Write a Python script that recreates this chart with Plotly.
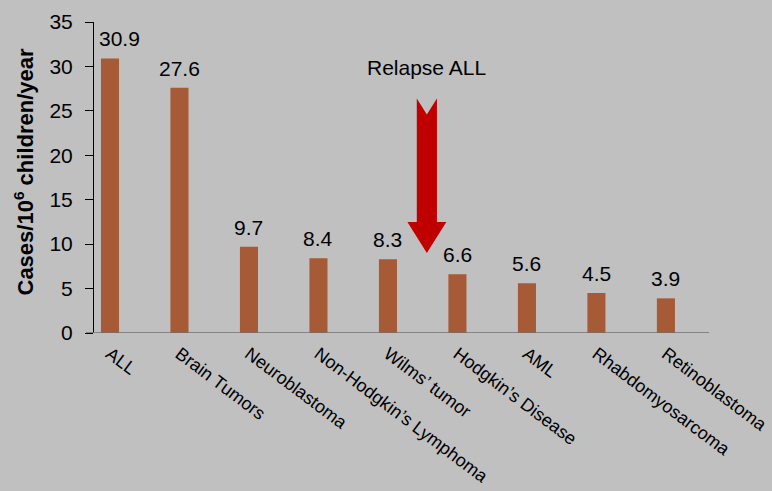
import plotly.graph_objects as go

categories = ["ALL", "Brain Tumors", "Neuroblastoma", "Non-Hodgkin\u2019s Lymphoma",
              "Wilms\u2019 tumor", "Hodgkin\u2019s Disease", "AML", "Rhabdomyosarcoma",
              "Retinoblastoma"]
incidence = [30.9, 27.6, 9.7, 8.4, 8.3, 6.6, 5.6, 4.5, 3.9]
y_ticks = [0, 5, 10, 15, 20, 25, 30, 35]

positions = list(range(len(categories)))
FONT = "Liberation Sans, Arial, sans-serif"
BG = "#c0c0c0"

fig = go.Figure()
fig.add_trace(go.Bar(
    x=positions, y=incidence, width=0.26,
    marker=dict(color="#a65a35", line=dict(width=0)),
    hoverinfo="skip",
))

# value labels above each bar (first one nudged clear of the y axis)
for p, v in zip(positions, incidence):
    fig.add_annotation(x=p, y=v, text=f"{v:.1f}", showarrow=False,
                       yanchor="bottom", yshift=6, xshift=10 if p == 0 else 0,
                       font=dict(family=FONT, size=21, color="black"))

# block arrow marking relapsed ALL
ax = 4.56
sw, hw = 0.145, 0.28
y_top, y_notch, y_head, y_tip = 26.4, 24.6, 12.5, 9.0
path = (f"M {ax - sw} {y_top} L {ax} {y_notch} L {ax + sw} {y_top} "
        f"L {ax + sw} {y_head} L {ax + hw} {y_head} L {ax} {y_tip} "
        f"L {ax - hw} {y_head} L {ax - sw} {y_head} Z")
fig.add_shape(type="path", path=path, xref="x", yref="y",
              fillcolor="#c00000", line=dict(width=0))
fig.add_annotation(x=ax, y=28.4, text="Relapse ALL", showarrow=False,
                   yanchor="bottom", xref="x", yref="y",
                   font=dict(family=FONT, size=21, color="black"))

# category axis baseline, running slightly past the value axis
fig.add_shape(type="line", xref="paper", yref="y", x0=-8 / 615, x1=1, y0=0, y1=0,
              line=dict(color="#707070", width=1.5))

# y-axis title
fig.add_annotation(x=0, y=0.5, xref="paper", yref="paper", xshift=-71, yshift=5,
                   text="<b>Cases/10<sup>6</sup> children/year</b>",
                   textangle=-90, showarrow=False, xanchor="center", yanchor="middle",
                   font=dict(family=FONT, size=22, color="black"))

fig.update_layout(
    width=772, height=491,
    margin=dict(l=94, r=63, t=22, b=158),
    paper_bgcolor=BG, plot_bgcolor=BG,
    showlegend=False,
    font=dict(family=FONT, color="black"),
    xaxis=dict(
        range=[-0.23, 8.62], tickmode="array", tickvals=positions,
        ticktext=categories, tickangle=37, ticks="",
        showgrid=False, zeroline=False, automargin=False,
        showline=False, ticklabeloverflow="allow", ticklabelstandoff=6,
        tickfont=dict(family=FONT, size=18, color="black"),
    ),
    yaxis=dict(
        range=[0, 35], tickmode="array", tickvals=y_ticks,
        ticks="outside", ticklen=8, tickcolor="black",
        showgrid=False, zeroline=False, automargin=False,
        showline=True, linecolor="black", linewidth=1,
        ticklabelstandoff=8,
        tickfont=dict(family=FONT, size=21, color="black"),
    ),
)

fig.write_html("out.html")
